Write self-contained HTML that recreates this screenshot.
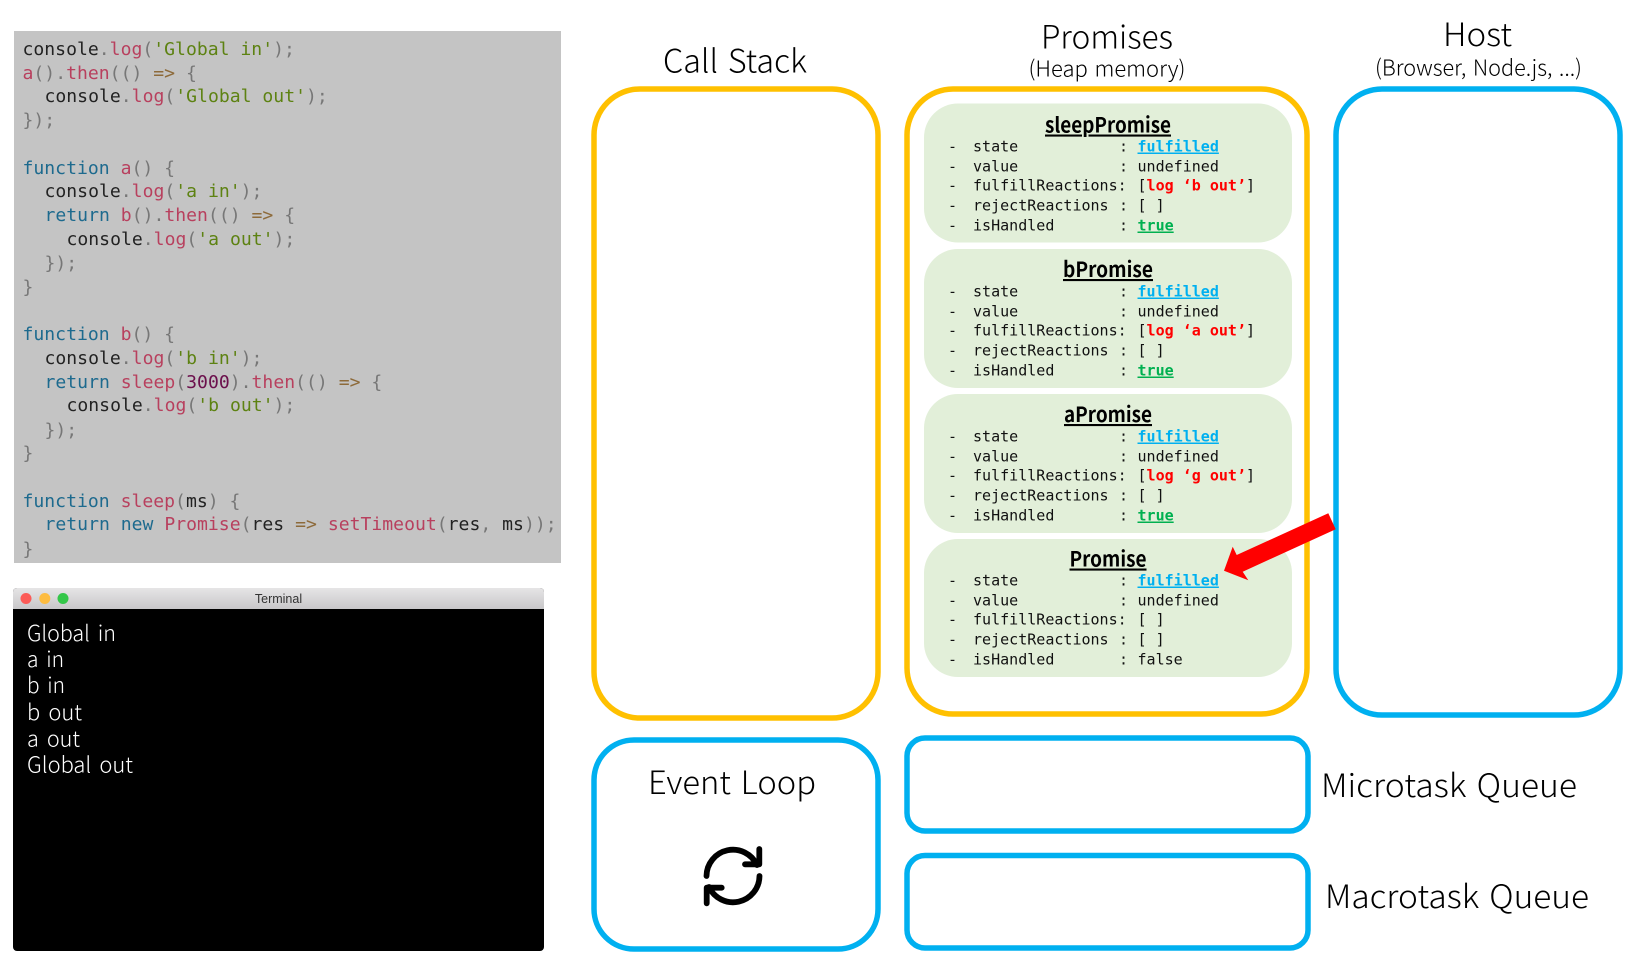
<!DOCTYPE html>
<html><head><meta charset="utf-8"><style>
html,body{margin:0;padding:0;background:#fff}
svg{display:block}
.c{font-family:"DejaVu Sans Mono","Liberation Mono",monospace;font-size:18.1px;white-space:pre;fill:#555}
.k{fill:#1d6a8e}.r{fill:#b8405e}.s{fill:#5d8212}.d{fill:#222}.g{fill:#777}.o{fill:#8d6a3a}.n{fill:#6b0f4c}
.h{font-family:"Noto Sans CJK KR","Liberation Sans",sans-serif;font-weight:300;fill:#000;word-spacing:.08em}
.t{font-family:"Noto Sans CJK KR","Liberation Sans",sans-serif;font-weight:300;fill:#fff;font-size:22px;word-spacing:.15em}
.p{font-family:"DejaVu Sans Mono","Liberation Mono",monospace;font-size:15.02px;white-space:pre;fill:#111}
.pt{font-family:"Noto Sans CJK KR","Liberation Sans",sans-serif;font-weight:700;font-size:21px;fill:#000;text-anchor:middle;text-decoration:underline}
.b{font-weight:700;text-decoration:underline}
.bl{fill:#00b0f0}.gr{fill:#00b050}.rd{fill:#f00;font-weight:700}
</style></head><body>
<svg xmlns="http://www.w3.org/2000/svg" width="1639" height="964" viewBox="0 0 1639 964">
<rect width="1639" height="964" fill="#fff"/>
<rect x="14" y="31" width="547" height="532" fill="#c4c4c4"/>
<g transform="translate(-0.5,0)">
<text class="c" x="23" y="55"><tspan class="d">console</tspan><tspan class="g">.</tspan><tspan class="r">log</tspan><tspan class="g">(</tspan><tspan class="s">'Global in'</tspan><tspan class="g">);</tspan></text>
<text class="c" x="23" y="79"><tspan class="r">a</tspan><tspan class="g">().</tspan><tspan class="r">then</tspan><tspan class="g">(() </tspan><tspan class="o">=&gt;</tspan><tspan class="g"> {</tspan></text>
<text class="c" x="45" y="102"><tspan class="d">console</tspan><tspan class="g">.</tspan><tspan class="r">log</tspan><tspan class="g">(</tspan><tspan class="s">'Global out'</tspan><tspan class="g">);</tspan></text>
<text class="c g" x="23" y="126">});</text>
<text class="c" x="23" y="174"><tspan class="k">function</tspan> <tspan class="r">a</tspan><tspan class="g">() {</tspan></text>
<text class="c" x="45" y="197"><tspan class="d">console</tspan><tspan class="g">.</tspan><tspan class="r">log</tspan><tspan class="g">(</tspan><tspan class="s">'a in'</tspan><tspan class="g">);</tspan></text>
<text class="c" x="45" y="221"><tspan class="k">return</tspan> <tspan class="r">b</tspan><tspan class="g">().</tspan><tspan class="r">then</tspan><tspan class="g">(() </tspan><tspan class="o">=&gt;</tspan><tspan class="g"> {</tspan></text>
<text class="c" x="67" y="245"><tspan class="d">console</tspan><tspan class="g">.</tspan><tspan class="r">log</tspan><tspan class="g">(</tspan><tspan class="s">'a out'</tspan><tspan class="g">);</tspan></text>
<text class="c g" x="45" y="269">});</text>
<text class="c g" x="23" y="293">}</text>
<text class="c" x="23" y="340"><tspan class="k">function</tspan> <tspan class="r">b</tspan><tspan class="g">() {</tspan></text>
<text class="c" x="45" y="364"><tspan class="d">console</tspan><tspan class="g">.</tspan><tspan class="r">log</tspan><tspan class="g">(</tspan><tspan class="s">'b in'</tspan><tspan class="g">);</tspan></text>
<text class="c" x="45" y="388"><tspan class="k">return</tspan> <tspan class="r">sleep</tspan><tspan class="g">(</tspan><tspan class="n">3000</tspan><tspan class="g">).</tspan><tspan class="r">then</tspan><tspan class="g">(() </tspan><tspan class="o">=&gt;</tspan><tspan class="g"> {</tspan></text>
<text class="c" x="67" y="411"><tspan class="d">console</tspan><tspan class="g">.</tspan><tspan class="r">log</tspan><tspan class="g">(</tspan><tspan class="s">'b out'</tspan><tspan class="g">);</tspan></text>
<text class="c g" x="45" y="436">});</text>
<text class="c g" x="23" y="459">}</text>
<text class="c" x="23" y="507"><tspan class="k">function</tspan> <tspan class="r">sleep</tspan><tspan class="g">(</tspan><tspan class="d">ms</tspan><tspan class="g">) {</tspan></text>
<text class="c" x="45" y="530"><tspan class="k">return new</tspan> <tspan class="r">Promise</tspan><tspan class="g">(</tspan><tspan class="d">res</tspan> <tspan class="o">=&gt;</tspan> <tspan class="r">setTimeout</tspan><tspan class="g">(</tspan><tspan class="d">res</tspan><tspan class="g">,</tspan> <tspan class="d">ms</tspan><tspan class="g">));</tspan></text>
<text class="c g" x="23" y="555">}</text>
</g>

<defs><linearGradient id="tb" x1="0" y1="0" x2="0" y2="1"><stop offset="0" stop-color="#e6e5e6"/><stop offset="1" stop-color="#c8c7c9"/></linearGradient></defs>
<rect x="13" y="588" width="531" height="363" rx="4" fill="#000"/>
<path d="M13 609V592a4 4 0 0 1 4-4H540a4 4 0 0 1 4 4V609Z" fill="url(#tb)"/>
<circle cx="26" cy="598.500" r="5.500" fill="#fc5b57"/><circle cx="44.800" cy="598.500" r="5.500" fill="#fdbc40"/><circle cx="63" cy="598.500" r="5.500" fill="#34c749"/>
<text x="278.500" y="603" text-anchor="middle" font-family="Liberation Sans,sans-serif" font-size="12.500" fill="#333">Terminal</text>
<text class="t" x="27" y="641" textLength="89" lengthAdjust="spacingAndGlyphs">Global in</text>
<text class="t" x="27" y="667" textLength="37" lengthAdjust="spacingAndGlyphs">a in</text>
<text class="t" x="27" y="693" textLength="38" lengthAdjust="spacingAndGlyphs">b in</text>
<text class="t" x="27" y="720" textLength="55" lengthAdjust="spacingAndGlyphs">b out</text>
<text class="t" x="27" y="746.500" textLength="53" lengthAdjust="spacingAndGlyphs">a out</text>
<text class="t" x="27" y="772.500" textLength="106" lengthAdjust="spacingAndGlyphs">Global out</text>

<g fill="none" stroke-width="5.500">
<rect x="594" y="89" width="284" height="629" rx="46" stroke="#ffc000"/>
<rect x="907" y="89" width="400" height="625" rx="46" stroke="#ffc000"/>
<rect x="1336" y="89" width="284" height="626" rx="46" stroke="#00b0f0"/>
<rect x="594" y="740" width="284" height="209" rx="40" stroke="#00b0f0"/>
<rect x="907" y="738" width="401" height="93" rx="18" stroke="#00b0f0"/>
<rect x="907" y="855.500" width="401" height="92.500" rx="18" stroke="#00b0f0"/>
</g>

<g fill="#e2efd9">
<rect x="924" y="103.500" width="368" height="139" rx="34"/>
<rect x="924" y="249" width="368" height="139" rx="34"/>
<rect x="924" y="394" width="368" height="139" rx="34"/>
<rect x="924" y="539" width="368" height="138" rx="34"/>
</g>

<text class="h" x="663" y="72.500" font-size="32" textLength="144" lengthAdjust="spacingAndGlyphs">Call Stack</text>
<text class="h" x="1041" y="48.500" font-size="32" textLength="132" lengthAdjust="spacingAndGlyphs">Promises</text>
<text class="h" x="1028.500" y="76.500" font-size="22" textLength="157" lengthAdjust="spacingAndGlyphs">(Heap memory)</text>
<text class="h" x="1443" y="46" font-size="32" textLength="69" lengthAdjust="spacingAndGlyphs">Host</text>
<text class="h" x="1375" y="75.500" font-size="22" textLength="207" lengthAdjust="spacingAndGlyphs">(Browser, Node.js, ...)</text>
<text class="h" x="648" y="794" font-size="32" textLength="168" lengthAdjust="spacingAndGlyphs">Event Loop</text>
<text class="h" x="1321" y="797" font-size="32" textLength="256" lengthAdjust="spacingAndGlyphs">Microtask Queue</text>
<text class="h" x="1325" y="908" font-size="32" textLength="264" lengthAdjust="spacingAndGlyphs">Macrotask Queue</text>

<g transform="translate(0,-0.5)">
<!-- card 1 -->
<text class="pt" x="1108" y="133" textLength="126" lengthAdjust="spacingAndGlyphs">sleepPromise</text>
<text class="p" x="948" y="152">-</text><text class="p" x="973" y="152">state</text><text class="p" x="1119" y="152">:</text><text class="p bl b" x="1137.500" y="152">fulfilled</text>
<text class="p" x="948" y="172">-</text><text class="p" x="973" y="172">value</text><text class="p" x="1119" y="172">:</text><text class="p" x="1137.500" y="172">undefined</text>
<text class="p" x="948" y="191">-</text><text class="p" x="973" y="191">fulfillReactions:</text><text class="p" x="1137.500" y="191">[<tspan class="rd">log ‘b out’</tspan>]</text>
<text class="p" x="948" y="211">-</text><text class="p" x="973" y="211">rejectReactions</text><text class="p" x="1119" y="211">:</text><text class="p" x="1137.500" y="211">[ ]</text>
<text class="p" x="948" y="231">-</text><text class="p" x="973" y="231">isHandled</text><text class="p" x="1119" y="231">:</text><text class="p gr b" x="1137.500" y="231">true</text>
<!-- card 2 -->
<text class="pt" x="1108" y="277.500" textLength="90" lengthAdjust="spacingAndGlyphs">bPromise</text>
<text class="p" x="948" y="297">-</text><text class="p" x="973" y="297">state</text><text class="p" x="1119" y="297">:</text><text class="p bl b" x="1137.500" y="297">fulfilled</text>
<text class="p" x="948" y="317">-</text><text class="p" x="973" y="317">value</text><text class="p" x="1119" y="317">:</text><text class="p" x="1137.500" y="317">undefined</text>
<text class="p" x="948" y="336">-</text><text class="p" x="973" y="336">fulfillReactions:</text><text class="p" x="1137.500" y="336">[<tspan class="rd">log ‘a out’</tspan>]</text>
<text class="p" x="948" y="356">-</text><text class="p" x="973" y="356">rejectReactions</text><text class="p" x="1119" y="356">:</text><text class="p" x="1137.500" y="356">[ ]</text>
<text class="p" x="948" y="376">-</text><text class="p" x="973" y="376">isHandled</text><text class="p" x="1119" y="376">:</text><text class="p gr b" x="1137.500" y="376">true</text>
<!-- card 3 -->
<text class="pt" x="1108" y="422.500" textLength="88" lengthAdjust="spacingAndGlyphs">aPromise</text>
<text class="p" x="948" y="442">-</text><text class="p" x="973" y="442">state</text><text class="p" x="1119" y="442">:</text><text class="p bl b" x="1137.500" y="442">fulfilled</text>
<text class="p" x="948" y="462">-</text><text class="p" x="973" y="462">value</text><text class="p" x="1119" y="462">:</text><text class="p" x="1137.500" y="462">undefined</text>
<text class="p" x="948" y="481">-</text><text class="p" x="973" y="481">fulfillReactions:</text><text class="p" x="1137.500" y="481">[<tspan class="rd">log ‘g out’</tspan>]</text>
<text class="p" x="948" y="501">-</text><text class="p" x="973" y="501">rejectReactions</text><text class="p" x="1119" y="501">:</text><text class="p" x="1137.500" y="501">[ ]</text>
<text class="p" x="948" y="521">-</text><text class="p" x="973" y="521">isHandled</text><text class="p" x="1119" y="521">:</text><text class="p gr b" x="1137.500" y="521">true</text>
<!-- card 4 -->
<text class="pt" x="1108" y="567" textLength="77" lengthAdjust="spacingAndGlyphs">Promise</text>
<text class="p" x="948" y="586">-</text><text class="p" x="973" y="586">state</text><text class="p" x="1119" y="586">:</text><text class="p bl b" x="1137.500" y="586">fulfilled</text>
<text class="p" x="948" y="606">-</text><text class="p" x="973" y="606">value</text><text class="p" x="1119" y="606">:</text><text class="p" x="1137.500" y="606">undefined</text>
<text class="p" x="948" y="625">-</text><text class="p" x="973" y="625">fulfillReactions:</text><text class="p" x="1137.500" y="625">[ ]</text>
<text class="p" x="948" y="645">-</text><text class="p" x="973" y="645">rejectReactions</text><text class="p" x="1119" y="645">:</text><text class="p" x="1137.500" y="645">[ ]</text>
<text class="p" x="948" y="665">-</text><text class="p" x="973" y="665">isHandled</text><text class="p" x="1119" y="665">:</text><text class="p" x="1137.500" y="665">false</text>
</g>

<polygon points="1224,570.700 1232.700,546.700 1236.700,555 1328.300,513.300 1335.700,529.300 1242.700,571.700 1248.300,580.300" fill="#f00"/>

<g fill="none" stroke="#000" stroke-width="5.800" stroke-linecap="round" stroke-linejoin="round">
<path d="M706.500 876A26.500 26.500 0 0 1 757 865"/>
<path d="M759.300 849V864.300H745"/>
<path d="M759.500 876A26.500 26.500 0 0 1 709 887"/>
<path d="M706.700 903.300V887.700H721.700"/>
</g>
</svg>
</body></html>
